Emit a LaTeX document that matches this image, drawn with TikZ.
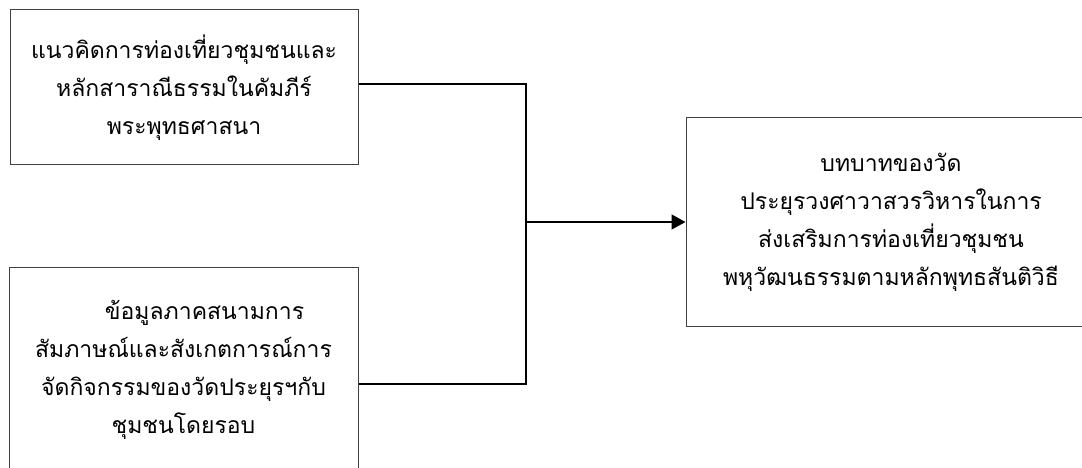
\documentclass[tikz,border=0pt]{standalone}
\usepackage{fontspec}
\newfontfamily\thaifont[Script=Thai]{Loma}
\usepackage{tikz}
\usetikzlibrary{arrows.meta,shapes}

\begin{document}
\begin{tikzpicture}[x=1pt,y=-1pt,
    box/.style={draw=black!75,line width=1pt,rectangle,inner sep=0pt,align=center,
        font=\thaifont\fontsize{23}{38}\selectfont},
    link/.style={draw=black,line width=1.4pt},
    arr/.style={link,-{Triangle[length=14pt,width=15pt]}}]
    \useasboundingbox (0,0) rectangle (1082,468);

    \node[box,minimum width=348pt,minimum height=155pt] (concept) at (184,87.5)
        {แนวคิดการท่องเที่ยวชุมชนและ\\หลักสาราณีธรรมในคัมภีร์\\พระพุทธศาสนา};
    \node[box,minimum width=349pt,minimum height=205pt] (field) at (183.5,369.5)
        {\hspace*{42pt}ข้อมูลภาคสนามการ\\สัมภาษณ์และสังเกตการณ์การ\\จัดกิจกรรมของวัดประยุรฯกับ\\ชุมชนโดยรอบ};
    \node[box,minimum width=410pt,minimum height=208pt] (role) at (891,222)
        {บทบาทของวัด\\ประยุรวงศาวาสวรวิหารในการ\\ส่งเสริมการท่องเที่ยวชุมชน\\พหุวัฒนธรรมตามหลักพุทธสันติวิธี};

    \coordinate (jtop) at (526,84);
    \coordinate (jmid) at (526,222);
    \coordinate (jbot) at (526,384);

    \draw[link] (concept.east |- jtop) -- (jtop) -- (jbot) -- (field.east |- jbot);
    \draw[arr] (jmid) -- (role.west);

\end{tikzpicture}
\end{document}
